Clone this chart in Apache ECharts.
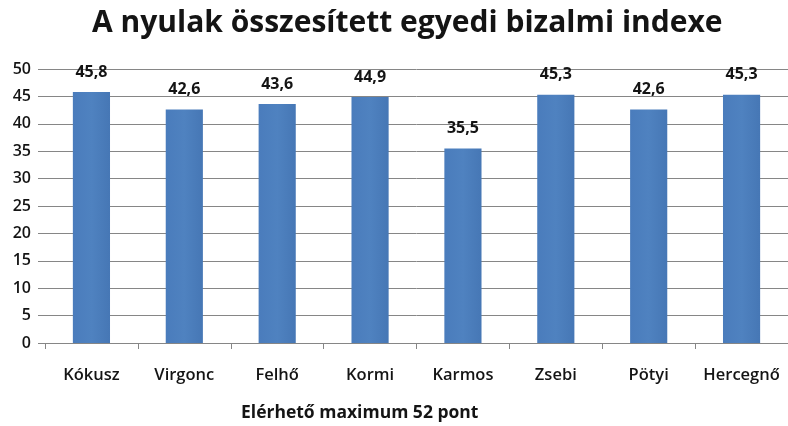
<!DOCTYPE html>
<html>
<head>
<meta charset="utf-8">
<script src="https://cdn.jsdelivr.net/npm/echarts@6/dist/echarts.min.js"></script>
<style>
    html, body { margin: 0; padding: 0; background: #fff; }
    #chart { width: 788px; height: 426px; }
</style>
</head>
<body>
<div id="chart"></div>
<script>
const titleText = 'A nyulak összesített egyedi bizalmi indexe'
const footText = 'Elérhető maximum 52 pont'
const rabbits = ['Kókusz', 'Virgonc', 'Felhő', 'Kormi', 'Karmos', 'Zsebi', 'Pötyi', 'Hercegnő']
const indexValues = [45.8, 42.6, 43.6, 44.9, 35.5, 45.3, 42.6, 45.3]
const yTicks = { min: 0, max: 50, step: 5 }

const font = '"Open Sans", Lato, sans-serif'
const textColor = '#141414'

const myChart = echarts.init(document.getElementById('chart'))

const option = {
    animation: false,
    title: [
        {
            text: titleText,
            left: 87,
            top: 3,
            textStyle: { fontFamily: font, fontSize: 30, fontWeight: 'bold', color: textColor }
        },
        {
            text: footText,
            left: 236,
            top: 399,
            textStyle: { fontFamily: font, fontSize: 17.5, fontWeight: 'bold', color: textColor }
        }
    ],
    grid: {
        left: 45,
        top: 69,
        width: 750,
        height: 274,
        containLabel: false
    },
    xAxis: {
        type: 'category',
        data: rabbits,
        axisLine: { show: true, lineStyle: { color: '#868686', width: 1 } },
        axisTick: { show: true, length: 6, lineStyle: { color: '#868686' } },
        axisLabel: {
            margin: 24,
            fontFamily: font,
            fontSize: 16.5,
            fontWeight: 600,
            color: textColor,
            interval: 0
        }
    },
    yAxis: {
        type: 'value',
        min: yTicks.min,
        max: yTicks.max,
        interval: yTicks.step,
        axisLine: { show: false },
        axisTick: { show: true, length: 7, lineStyle: { color: '#868686' } },
        splitLine: { show: true, lineStyle: { color: '#868686', width: 1 } },
        axisLabel: {
            margin: 14,
            fontFamily: font,
            fontSize: 16,
            fontWeight: 600,
            color: textColor
        }
    },
    series: [
        {
            type: 'bar',
            data: indexValues,
            barWidth: '40%',
            itemStyle: {
                color: new echarts.graphic.LinearGradient(0, 0, 1, 0, [
                    { offset: 0, color: '#4a7cbc' },
                    { offset: 0.5, color: '#4f82c0' },
                    { offset: 1, color: '#4677b5' }
                ])
            },
            label: {
                show: true,
                position: 'top',
                distance: 12,
                fontFamily: font,
                fontSize: 16,
                fontWeight: 'bold',
                color: textColor,
                formatter: p => p.value.toFixed(1).replace('.', ',')
            }
        }
    ]
}

myChart.setOption(option)
</script>
</body>
</html>
